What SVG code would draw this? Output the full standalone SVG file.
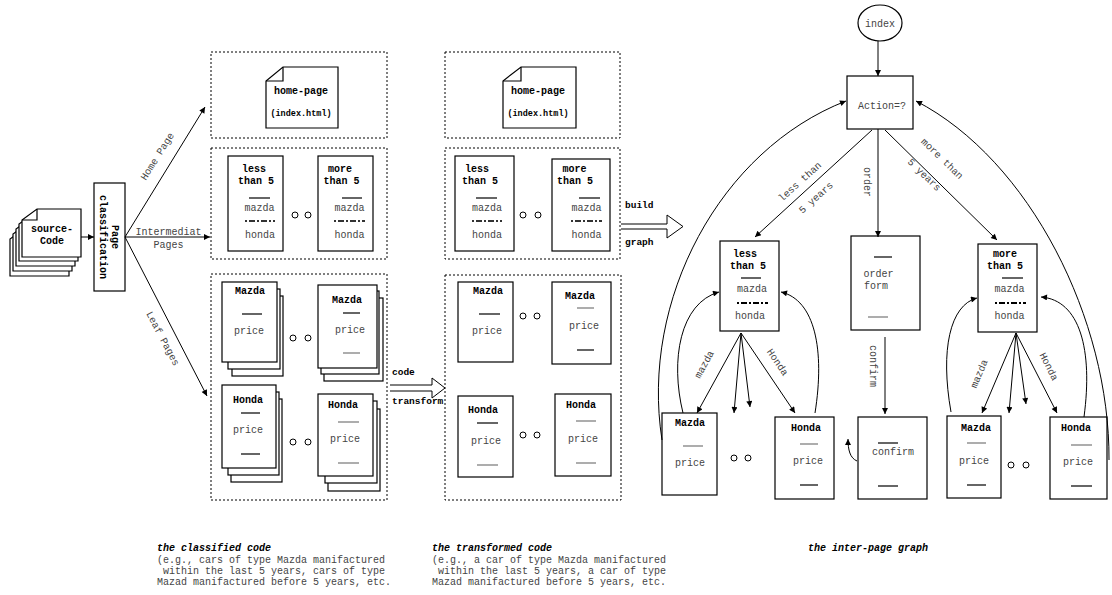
<svg xmlns="http://www.w3.org/2000/svg" width="1112" height="595" viewBox="0 0 1112 595">
<style>
.t{font-family:"Liberation Mono",monospace;font-size:10px;fill:#444;text-anchor:middle}
.l{text-anchor:start}
.b{font-weight:bold;fill:#000}
.s{font-size:8.5px}
.box{fill:#fff;stroke:#000;stroke-width:1.2}
.dot{fill:none;stroke:#000;stroke-width:1;stroke-dasharray:2 2}
.ln{stroke:#000;stroke-width:1.2}
.gl{stroke:#777;stroke-width:1.2}
.dr{stroke:#333;stroke-width:2;stroke-dasharray:2 2 6 2}
.ci{fill:#fff;stroke:#000;stroke-width:1}
.e{fill:none;stroke:#000;stroke-width:1;marker-end:url(#ah)}
.ha{fill:#fff;stroke:#000;stroke-width:1}
</style>
<defs>
<marker id="ah" viewBox="0 0 10 10" refX="10" refY="5" markerWidth="8" markerHeight="6" orient="auto" markerUnits="userSpaceOnUse"><path d="M0,0 L10,5 L0,10 z" fill="#000"/></marker>
<path id="src" d="M15,0 L59,0 L59,48 L0,48 L0,11 Z"/>
</defs>
<rect width="1112" height="595" fill="#fff"/>

<g id="source-code">
<use href="#src" x="10" y="228" class="box"/>
<use href="#src" x="13" y="223" class="box"/>
<use href="#src" x="16" y="218" class="box"/>
<use href="#src" x="19" y="213" class="box"/>
<use href="#src" x="22" y="209" class="box"/>
<path d="M37,209 L37,220 L22,220" class="ln" fill="none"/>
<text class="t b" x="52" y="231.5">source-</text>
<text class="t b" x="52" y="243.5">Code</text>
</g>

<g id="page-classification">
<rect x="94" y="183" width="31" height="108" class="box"/>
<g transform="translate(109,237) rotate(90)">
<text class="t b" x="0" y="-3">Page</text>
<text class="t b" x="0" y="9">classification</text>
</g>
</g>

<g id="connectors-left">
<line x1="81" y1="237" x2="94" y2="237" class="e"/>
<line x1="125" y1="237" x2="205" y2="107" class="e"/>
<line x1="125" y1="237" x2="210" y2="237" class="e"/>
<line x1="125" y1="237" x2="207" y2="396" class="e"/>
<text class="t" transform="translate(160,158) rotate(-58)">Home Page</text>
<text class="t" x="168.5" y="235">Intermediat</text>
<text class="t" x="168.5" y="247.5">Pages</text>
<text class="t" transform="translate(160,340) rotate(62)">Leaf Pages</text>
</g>

<g id="classified-home">
<rect x="211" y="52" width="176" height="86" class="dot"/>
<path d="M283,67 L338,67 L338,128 L266,128 L266,81 Z" class="box"/>
<path d="M283,67 L283,81 L266,81" class="ln" fill="none"/>
<text class="t b" x="301" y="93.5">home-page</text>
<text class="t b s" x="301" y="116">(index.html)</text>
</g>

<g id="classified-intermediate">
<rect x="211" y="148" width="176" height="111" class="dot"/>
<rect x="228" y="156" width="55" height="95" class="box"/>
<text class="t b" x="254" y="171.5">less</text>
<text class="t b" x="256" y="183.5">than 5</text>
<line x1="249" y1="198" x2="270" y2="198" class="ln"/>
<text class="t" x="259.5" y="210.5">mazda</text>
<line x1="245" y1="221" x2="275" y2="221" class="dr"/>
<text class="t" x="260" y="237.5">honda</text>
<circle cx="295" cy="215" r="3" class="ci"/>
<circle cx="308" cy="215" r="3" class="ci"/>
<rect x="318" y="156" width="55" height="95" class="box"/>
<text class="t b" x="340" y="171.5">more</text>
<text class="t b" x="341.5" y="183.5">than 5</text>
<line x1="342" y1="198" x2="362" y2="198" class="ln"/>
<text class="t" x="349.5" y="210.5">mazda</text>
<line x1="334" y1="221" x2="365" y2="221" class="dr"/>
<text class="t" x="349.5" y="237.5">honda</text>
</g>

<g id="classified-leaf">
<rect x="211" y="274" width="176" height="226" class="dot"/>
<rect x="232" y="296" width="51" height="80" class="box"/>
<rect x="228" y="289" width="52" height="80" class="box"/>
<rect x="222" y="282" width="55" height="80" class="box"/>
<text class="t b" x="250" y="293.5">Mazda</text>
<line x1="242" y1="314" x2="262" y2="314" class="ln"/>
<text class="t" x="249" y="333.5">price</text>
<circle cx="293" cy="338" r="3" class="ci"/>
<circle cx="308" cy="338" r="3" class="ci"/>
<rect x="324" y="298" width="59" height="83" class="box"/>
<rect x="321" y="291" width="58" height="83" class="box"/>
<rect x="318" y="285" width="59" height="83" class="box"/>
<text class="t b" x="347" y="302.5">Mazda</text>
<line x1="343" y1="313" x2="360" y2="313" class="ln"/>
<text class="t" x="350" y="332.5">price</text>
<line x1="343" y1="353" x2="360" y2="353" class="gl"/>
<rect x="231" y="399" width="51" height="83" class="box"/>
<rect x="228" y="392" width="51" height="83" class="box"/>
<rect x="222" y="385" width="54" height="83" class="box"/>
<text class="t b" x="248" y="402.5">Honda</text>
<line x1="241" y1="413" x2="260" y2="413" class="ln"/>
<text class="t" x="248" y="432.5">price</text>
<line x1="241" y1="454" x2="260" y2="454" class="ln"/>
<circle cx="293" cy="442" r="3" class="ci"/>
<circle cx="308" cy="442" r="3" class="ci"/>
<rect x="328" y="409" width="52" height="82" class="box"/>
<rect x="325" y="401" width="52" height="82" class="box"/>
<rect x="318" y="394" width="55" height="82" class="box"/>
<text class="t b" x="343" y="407.5">Honda</text>
<line x1="338" y1="422" x2="359" y2="422" class="gl"/>
<text class="t" x="345" y="441.5">price</text>
<line x1="338" y1="463" x2="359" y2="463" class="gl"/>
</g>

<g id="code-transform">
<path d="M390,385 L432,385 L432,378 L445,388 L432,398 L432,391 L390,391" class="ha"/>
<text class="t b l" x="392" y="375" style="font-size:9.5px">code</text>
<text class="t b l" x="392" y="404" style="font-size:9.5px">transform</text>
</g>

<g id="transformed-home">
<rect x="445" y="52" width="175" height="86" class="dot"/>
<path d="M521,67 L576,67 L576,128 L503,128 L503,81 Z" class="box"/>
<path d="M521,67 L521,81 L503,81" class="ln" fill="none"/>
<text class="t b" x="538" y="93.5">home-page</text>
<text class="t b s" x="538" y="116">(index.html)</text>
</g>

<g id="transformed-intermediate">
<rect x="445" y="148" width="175" height="111" class="dot"/>
<rect x="455" y="156" width="59" height="95" class="box"/>
<text class="t b" x="477" y="171.5">less</text>
<text class="t b" x="480" y="183.5">than 5</text>
<line x1="476" y1="198" x2="497" y2="198" class="ln"/>
<text class="t" x="487" y="210.5">mazda</text>
<line x1="472" y1="221" x2="502" y2="221" class="dr"/>
<text class="t" x="487" y="237.5">honda</text>
<circle cx="523" cy="215" r="3" class="ci"/>
<circle cx="538" cy="215" r="3" class="ci"/>
<rect x="552" y="159" width="58" height="92" class="box"/>
<text class="t b" x="574.5" y="171.5">more</text>
<text class="t b" x="575" y="183.5">than 5</text>
<line x1="579" y1="198" x2="600" y2="198" class="ln"/>
<text class="t" x="586.5" y="210.5">mazda</text>
<line x1="571" y1="221" x2="602" y2="221" class="dr"/>
<text class="t" x="586.5" y="237.5">honda</text>
</g>

<g id="transformed-leaf">
<rect x="445" y="275" width="176" height="225" class="dot"/>
<rect x="458" y="282" width="55" height="80" class="box"/>
<text class="t b" x="488" y="293.5">Mazda</text>
<line x1="479" y1="314" x2="500" y2="314" class="ln"/>
<text class="t" x="487" y="333.5">price</text>
<circle cx="523" cy="316" r="3" class="ci"/>
<circle cx="537" cy="316" r="3" class="ci"/>
<rect x="552" y="282" width="59" height="82" class="box"/>
<text class="t b" x="580" y="298.5">Mazda</text>
<line x1="577" y1="308" x2="594" y2="308" class="gl"/>
<text class="t" x="584" y="328.5">price</text>
<line x1="577" y1="350" x2="594" y2="350" class="ln"/>
<rect x="458" y="396" width="55" height="81" class="box"/>
<text class="t b" x="483" y="412.5">Honda</text>
<line x1="477" y1="423" x2="498" y2="423" class="ln"/>
<text class="t" x="486" y="443.5">price</text>
<line x1="477" y1="465" x2="498" y2="465" class="gl"/>
<circle cx="523" cy="435" r="3" class="ci"/>
<circle cx="537" cy="435" r="3" class="ci"/>
<rect x="555" y="394" width="56" height="82" class="box"/>
<text class="t b" x="581" y="407.5">Honda</text>
<line x1="576" y1="421" x2="596" y2="421" class="gl"/>
<text class="t" x="583" y="441.5">price</text>
<line x1="576" y1="463" x2="596" y2="463" class="gl"/>
</g>

<g id="build-graph">
<path d="M621,224 L667,224 L667,215 L683,226.5 L667,238 L667,229 L621,229" class="ha"/>
<text class="t b l" x="625" y="208" style="font-size:9.5px">build</text>
<text class="t b l" x="625" y="245" style="font-size:9.5px">graph</text>
</g>

<g id="index">
<ellipse cx="880" cy="23" rx="22" ry="18" class="box"/>
<text class="t" x="880" y="26.5">index</text>
</g>

<g id="action">
<rect x="847" y="76" width="66" height="53" class="box"/>
<text class="t" x="882" y="108.5">Action=?</text>
</g>

<g id="node-less">
<rect x="720" y="241" width="59" height="90" class="box"/>
<text class="t b" x="745" y="256.5">less</text>
<text class="t b" x="748" y="268.5">than 5</text>
<line x1="741" y1="278" x2="761" y2="278" class="ln"/>
<text class="t" x="752" y="291.5">mazda</text>
<line x1="737" y1="303" x2="768" y2="303" class="dr" style="stroke:#000"/>
<text class="t" x="750" y="318.5">honda</text>
</g>

<g id="node-order-form">
<rect x="851" y="236" width="69" height="94" class="box"/>
<line x1="874" y1="257" x2="892" y2="257" class="ln"/>
<text class="t" x="878.5" y="276.5">order</text>
<text class="t" x="876" y="288.5">form</text>
<line x1="868" y1="317" x2="888" y2="317" class="gl"/>
</g>

<g id="node-more">
<rect x="978" y="244" width="59" height="88" class="box"/>
<text class="t b" x="1005" y="256.5">more</text>
<text class="t b" x="1005" y="268.5">than 5</text>
<line x1="1002" y1="278" x2="1023" y2="278" class="ln"/>
<text class="t" x="1009.5" y="291.5">mazda</text>
<line x1="995" y1="303" x2="1026" y2="303" class="dr" style="stroke:#000"/>
<text class="t" x="1009.5" y="318.5">honda</text>
</g>

<g id="node-l-mazda">
<rect x="662" y="413" width="55" height="82" class="box"/>
<text class="t b" x="690" y="425.5">Mazda</text>
<line x1="683" y1="446" x2="703" y2="446" class="gl"/>
<text class="t" x="690" y="465.5">price</text>
</g>
<g id="l-dots">
<circle cx="734" cy="458" r="3" class="ci"/>
<circle cx="748" cy="458" r="3" class="ci"/>
</g>
<g id="node-l-honda">
<rect x="775" y="417" width="59" height="82" class="box"/>
<text class="t b" x="806" y="430.5">Honda</text>
<line x1="800" y1="444" x2="818" y2="444" class="gl"/>
<text class="t" x="808" y="463.5">price</text>
<line x1="800" y1="485" x2="818" y2="485" class="ln"/>
</g>

<g id="node-confirm">
<rect x="858" y="417" width="69" height="82" class="box"/>
<line x1="878" y1="443" x2="898" y2="443" class="ln"/>
<text class="t" x="893" y="454.5">confirm</text>
<line x1="878" y1="486" x2="898" y2="486" class="ln"/>
</g>

<g id="node-r-mazda">
<rect x="947" y="416" width="54" height="82" class="box"/>
<text class="t b" x="976" y="430.5">Mazda</text>
<line x1="967" y1="443" x2="986" y2="443" class="gl"/>
<text class="t" x="974" y="463.5">price</text>
<line x1="967" y1="485" x2="986" y2="485" class="ln"/>
</g>
<g id="r-dots">
<circle cx="1011" cy="465" r="3" class="ci"/>
<circle cx="1026" cy="465" r="3" class="ci"/>
</g>
<g id="node-r-honda">
<rect x="1050" y="417" width="57" height="82" class="box"/>
<text class="t b" x="1076" y="430.5">Honda</text>
<line x1="1071" y1="445" x2="1092" y2="445" class="gl"/>
<text class="t" x="1078" y="464.5">price</text>
<line x1="1071" y1="486" x2="1092" y2="486" class="ln"/>
</g>

<g id="connectors-graph">
<line x1="878" y1="41" x2="878" y2="76" class="e"/>
<line x1="878" y1="129" x2="878" y2="237" class="e"/>
<line x1="872" y1="130" x2="755" y2="237" class="e"/>
<line x1="885" y1="130" x2="997" y2="240" class="e"/>
<line x1="885" y1="337" x2="885" y2="414" class="e"/>
<path d="M662,440 C640,300 720,150 846,101" class="e"/>
<path d="M1109,460 C1110,320 1030,160 916,101" class="e"/>
<line x1="741" y1="333" x2="697" y2="413" class="e"/>
<line x1="741" y1="333" x2="734" y2="413" class="e"/>
<line x1="741" y1="333" x2="750" y2="407" class="e"/>
<line x1="741" y1="333" x2="795" y2="413" class="e"/>
<line x1="1016" y1="333" x2="982" y2="413" class="e"/>
<line x1="1016" y1="333" x2="1009" y2="413" class="e"/>
<line x1="1016" y1="333" x2="1026" y2="404" class="e"/>
<line x1="1016" y1="333" x2="1057" y2="413" class="e"/>
<path d="M683,413 C670,360 680,303 719,292" class="e"/>
<path d="M815,413 C825,350 815,300 781,292" class="e"/>
<path d="M951,412 C940,350 950,305 977,298" class="e"/>
<path d="M1084,417 C1093,350 1080,300 1041,297" class="e"/>
<path d="M857,461 C850,458 848,450 848,439" class="e"/>
<text class="t" transform="translate(802,184) rotate(-42)">less than</text>
<text class="t" transform="translate(818,200) rotate(-42)">5 years</text>
<text class="t" transform="translate(940,161) rotate(44)">more than</text>
<text class="t" transform="translate(922,177) rotate(44)">5 years</text>
<text class="t" transform="translate(864,182) rotate(90)">order</text>
<text class="t" transform="translate(870,366) rotate(90)">confirm</text>
<text class="t" transform="translate(707,366) rotate(-61)">mazda</text>
<text class="t" transform="translate(775,364) rotate(56)">Honda</text>
<text class="t" transform="translate(982,375) rotate(-67)">mazda</text>
<text class="t" transform="translate(1046,368) rotate(63)">Honda</text>
</g>

<g id="captions">
<text class="t l b" x="157" y="551" style="font-style:italic">the classified code</text>
<text class="t l" x="157" y="563">(e.g., cars of type Mazda manifactured</text>
<text class="t l" x="163" y="574">within the last 5 years, cars of type</text>
<text class="t l" x="157" y="585">Mazad manifactured before 5 years, etc.</text>
<text class="t l b" x="432" y="551" style="font-style:italic">the transformed code</text>
<text class="t l" x="432" y="563">(e.g., a car of type Mazda manifactured</text>
<text class="t l" x="438" y="574">within the last 5 years, a car of type</text>
<text class="t l" x="432" y="585">Mazad manifactured before 5 years, etc.</text>
<text class="t l b" x="808" y="551" style="font-style:italic">the inter-page graph</text>
</g>
</svg>
